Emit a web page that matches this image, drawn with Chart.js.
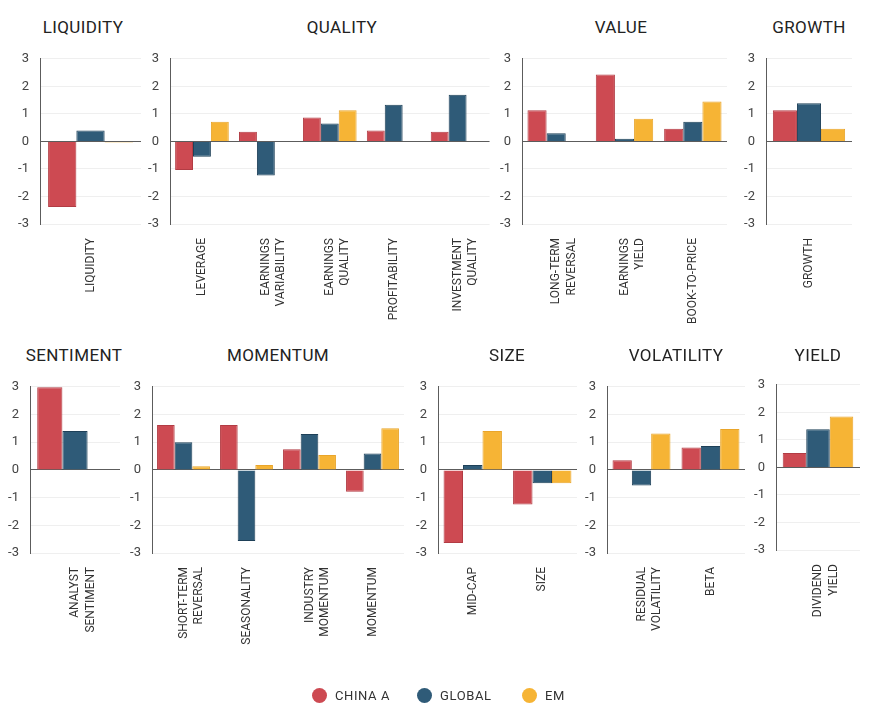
<!DOCTYPE html>
<html>
<head>
<meta charset="utf-8">
<title>Factor returns</title>
<script src="https://cdn.jsdelivr.net/npm/chart.js@4.4.1/dist/chart.umd.min.js"></script>
<style>
    body { margin: 0; background: #fff; font-family: Roboto, "DejaVu Sans", sans-serif; }
    #page { position: relative; width: 870px; height: 722px; overflow: hidden; }
    .panel { position: absolute; }
    .title {
        position: absolute;
        transform: translate(-50%, -50%);
        font-size: 17px;
        color: #222;
        letter-spacing: 0.4px;
        white-space: nowrap;
    }
    .legend-item {
        position: absolute;
        top: 688px;
        display: flex;
        align-items: center;
        font-size: 13px;
        color: #333;
        letter-spacing: 0.6px;
    }
    .legend-item span.dot {
        display: inline-block;
        width: 15px;
        height: 15px;
        border-radius: 50%;
        margin-right: 8px;
    }
</style>
</head>
<body>
<div id="page"></div>
<script>
// Series names
const seriesNames = ['CHINA A', 'GLOBAL', 'EM'];

// Y axis ticks (same for every panel)
const yTicks = [-3, -2, -1, 0, 1, 2, 3];

// LIQUIDITY
const liquidityLabels = [['LIQUIDITY']];
const liquidityChinaA = [-2.38];
const liquidityGlobal = [0.40];
const liquidityEM = [-0.04];

// QUALITY
const qualityLabels = [['LEVERAGE'], ['EARNINGS', 'VARIABILITY'], ['EARNINGS', 'QUALITY'], ['PROFITABILITY'], ['INVESTMENT', 'QUALITY']];
const qualityChinaA = [-1.04, 0.35, 0.87, 0.40, 0.35];
const qualityGlobal = [-0.56, -1.24, 0.65, 1.33, 1.69];
const qualityEM = [0.71, null, 1.13, null, null];

// VALUE
const valueLabels = [['LONG-TERM', 'REVERSAL'], ['EARNINGS', 'YIELD'], ['BOOK-TO-PRICE']];
const valueChinaA = [1.13, 2.43, 0.46];
const valueGlobal = [0.30, 0.10, 0.71];
const valueEM = [null, 0.82, 1.45];

// GROWTH
const growthLabels = [['GROWTH']];
const growthChinaA = [1.13];
const growthGlobal = [1.39];
const growthEM = [0.46];

// SENTIMENT
const sentimentLabels = [['ANALYST', 'SENTIMENT']];
const sentimentChinaA = [2.98];
const sentimentGlobal = [1.40];
const sentimentEM = [null];

// MOMENTUM
const momentumLabels = [['SHORT-TERM', 'REVERSAL'], ['SEASONALITY'], ['INDUSTRY', 'MOMENTUM'], ['MOMENTUM']];
const momentumChinaA = [1.62, 1.62, 0.75, -0.79];
const momentumGlobal = [1.00, -2.57, 1.30, 0.59];
const momentumEM = [0.13, 0.18, 0.54, 1.50];

// SIZE
const sizeLabels = [['MID-CAP'], ['SIZE']];
const sizeChinaA = [-2.64, -1.25];
const sizeGlobal = [0.18, -0.48];
const sizeEM = [1.40, -0.48];

// VOLATILITY
const volatilityLabels = [['RESIDUAL', 'VOLATILITY'], ['BETA']];
const volatilityChinaA = [0.35, 0.81];
const volatilityGlobal = [-0.56, 0.86];
const volatilityEM = [1.31, 1.48];

// YIELD
const yieldLabels = [['DIVIDEND', 'YIELD']];
const yieldChinaA = [0.52];
const yieldGlobal = [1.39];
const yieldEM = [1.85];

// Colours
const colors = ['#CD4A52', '#2F5B78', '#F6B435'];
const edges = ['#B23C44', '#1E4058', '#E9A52A'];

// Panel layout (pixels on the page)
const Y_AXIS_W = 40;
const PAD_TOP = 15;
const panels = [
    { title: 'LIQUIDITY',  titleX: 83,  titleY: 27,  axisX: 40,  rightX: 141, plotTop: 55,  plotH: 169, bottom: 330, labels: liquidityLabels,  data: [liquidityChinaA, liquidityGlobal, liquidityEM] },
    { title: 'QUALITY',    titleX: 342, titleY: 27,  axisX: 170, rightX: 493, plotTop: 55,  plotH: 169, bottom: 330, labels: qualityLabels,    data: [qualityChinaA, qualityGlobal, qualityEM] },
    { title: 'VALUE',      titleX: 621, titleY: 27,  axisX: 522, rightX: 727, plotTop: 55,  plotH: 169, bottom: 330, labels: valueLabels,      data: [valueChinaA, valueGlobal, valueEM] },
    { title: 'GROWTH',     titleX: 809, titleY: 27,  axisX: 766, rightX: 852, plotTop: 55,  plotH: 169, bottom: 330, labels: growthLabels,     data: [growthChinaA, growthGlobal, growthEM] },
    { title: 'SENTIMENT',  titleX: 74,  titleY: 355, axisX: 30,  rightX: 120, plotTop: 383, plotH: 170, bottom: 665, labels: sentimentLabels,  data: [sentimentChinaA, sentimentGlobal, sentimentEM] },
    { title: 'MOMENTUM',   titleX: 278, titleY: 355, axisX: 152, rightX: 404, plotTop: 383, plotH: 170, bottom: 665, labels: momentumLabels,   data: [momentumChinaA, momentumGlobal, momentumEM] },
    { title: 'SIZE',       titleX: 507, titleY: 355, axisX: 438, rightX: 577, plotTop: 383, plotH: 170, bottom: 665, labels: sizeLabels,       data: [sizeChinaA, sizeGlobal, sizeEM] },
    { title: 'VOLATILITY', titleX: 676, titleY: 355, axisX: 607, rightX: 745, plotTop: 383, plotH: 170, bottom: 665, labels: volatilityLabels, data: [volatilityChinaA, volatilityGlobal, volatilityEM] },
    { title: 'YIELD',      titleX: 818, titleY: 355, axisX: 776, rightX: 860, plotTop: 381, plotH: 169, bottom: 665, labels: yieldLabels,      data: [yieldChinaA, yieldGlobal, yieldEM] }
];

const page = document.getElementById('page');

function makePanel(p) {
    const title = document.createElement('div');
    title.className = 'title';
    title.textContent = p.title;
    title.style.left = p.titleX + 'px';
    title.style.top = p.titleY + 'px';
    page.appendChild(title);

    const left = p.axisX - Y_AXIS_W;
    const width = p.rightX - left + 2;
    const top = p.plotTop - PAD_TOP;
    const height = p.bottom - top;
    const xAxisH = height - PAD_TOP - p.plotH;

    const box = document.createElement('div');
    box.className = 'panel';
    box.style.left = left + 'px';
    box.style.top = top + 'px';
    box.style.width = width + 'px';
    box.style.height = height + 'px';
    const canvas = document.createElement('canvas');
    box.appendChild(canvas);
    page.appendChild(box);

    new Chart(canvas, {
        type: 'bar',
        data: {
            labels: p.labels,
            datasets: p.data.map(function(values, i) {
                return {
                    label: seriesNames[i],
                    data: values,
                    backgroundColor: colors[i],
                    borderColor: edges[i],
                    borderWidth: 1,
                    categoryPercentage: 0.84,
                    barPercentage: 1.0
                };
            })
        },
        options: {
            responsive: true,
            maintainAspectRatio: false,
            animation: false,
            layout: { padding: { top: PAD_TOP, right: 2, left: 0, bottom: 0 } },
            plugins: {
                legend: { display: false },
                tooltip: { enabled: false }
            },
            scales: {
                x: {
                    grid: { display: false },
                    border: { display: false },
                    ticks: {
                        autoSkip: false,
                        minRotation: 90,
                        maxRotation: 90,
                        padding: 6,
                        color: '#333',
                        font: { family: 'Roboto', size: 12, lineHeight: 1.3 }
                    },
                    afterFit: function(scale) { scale.height = xAxisH; }
                },
                y: {
                    min: yTicks[0],
                    max: yTicks[yTicks.length - 1],
                    afterBuildTicks: function(scale) {
                        scale.ticks = yTicks.map(function(v) { return { value: v }; });
                    },
                    grid: {
                        drawTicks: false,
                        color: function(ctx) { return ctx.tick && ctx.tick.value === 0 ? '#5c5c5c' : '#efefef'; }
                    },
                    border: { display: true, color: '#5c5c5c', width: 1 },
                    ticks: {
                        padding: 11,
                        color: '#444',
                        font: { family: 'Roboto', size: 13 }
                    },
                    afterFit: function(scale) { scale.width = Y_AXIS_W; }
                }
            }
        }
    });
}

panels.forEach(makePanel);

// Legend
const legendX = [312, 417, 522];
seriesNames.forEach(function(name, i) {
    const item = document.createElement('div');
    item.className = 'legend-item';
    item.style.left = legendX[i] + 'px';
    const dot = document.createElement('span');
    dot.className = 'dot';
    dot.style.background = colors[i];
    item.appendChild(dot);
    item.appendChild(document.createTextNode(name));
    page.appendChild(item);
});
</script>
</body>
</html>
